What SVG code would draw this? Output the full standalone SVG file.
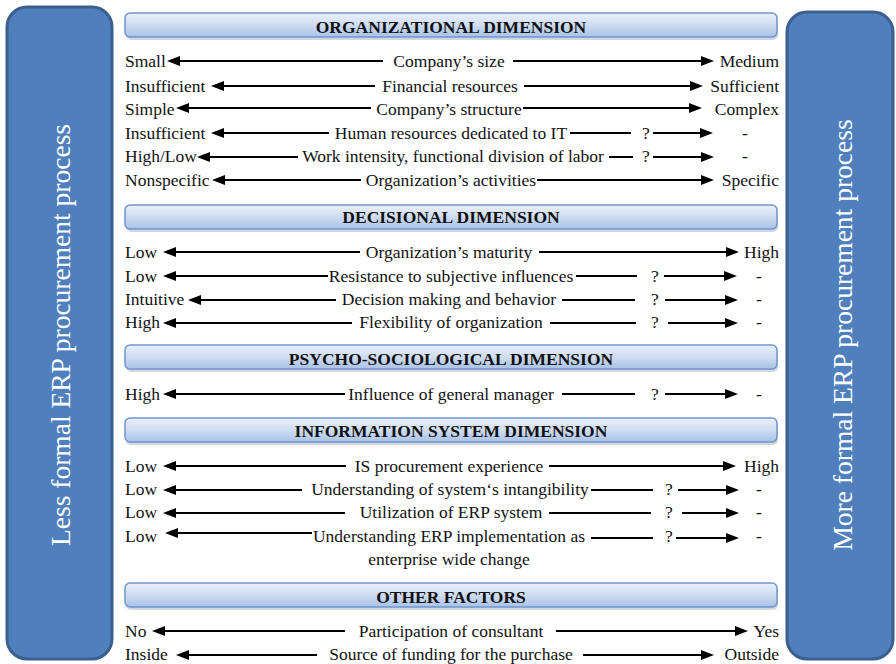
<svg xmlns="http://www.w3.org/2000/svg" width="896" height="664" viewBox="0 0 896 664">
  <defs>
    <linearGradient id="barFill" x1="0" y1="0" x2="0" y2="1">
      <stop offset="0" stop-color="#eaf0fa"/>
      <stop offset="0.5" stop-color="#cfdcf1"/>
      <stop offset="1" stop-color="#a8c2e8"/>
    </linearGradient>
    <marker id="head" markerUnits="userSpaceOnUse" markerWidth="14" markerHeight="11" refX="2" refY="5" orient="auto">
      <path d="M0,0 L13,5 L0,10 z" fill="#000"/>
    </marker>
    <style>
      .panel { fill: #4f7fbd; stroke: #3b5f8f; stroke-width: 3; }
      .vtext { font-family: "Liberation Serif", "Times New Roman", serif; font-size: 27.5px; fill: #ffffff; text-anchor: middle; }
      .bar { fill: url(#barFill); stroke: #6f96cd; stroke-width: 1.5; }
      .barShadow { fill: #7f8fa6; opacity: 0.35; }
      .head { font-family: "Liberation Serif", "Times New Roman", serif; font-size: 17.5px; font-weight: bold; fill: #111; text-anchor: middle; }
      .row text { font-family: "Liberation Serif", "Times New Roman", serif; font-size: 17.5px; fill: #111; }
      .c { text-anchor: middle; }
      .e { text-anchor: end; }
      .ln { stroke: #000; stroke-width: 2; fill: none; }
      .ar { stroke: #000; stroke-width: 2; fill: none; marker-end: url(#head); }
    </style>
  </defs>
  <rect width="896" height="664" fill="#ffffff"/>

  <!-- side panels -->
  <g id="less-formal">
    <rect class="panel" x="7" y="7" width="105" height="652" rx="20"/>
    <text class="vtext" transform="translate(70,335) rotate(-90)">Less formal ERP procurement process</text>
  </g>
  <g id="more-formal">
    <rect class="panel" x="787" y="12" width="106" height="647" rx="20"/>
    <text class="vtext" transform="translate(852,335) rotate(-90)">More formal ERP procurement process</text>
  </g>

  <!-- dimension headers -->
  <g id="hdr-organizational">
    <rect class="barShadow" x="126" y="15" width="652" height="25" rx="5"/>
    <rect class="bar" x="125" y="13" width="652" height="24" rx="5"/>
    <text class="head" x="451" y="33">ORGANIZATIONAL DIMENSION</text>
  </g>
  <g id="hdr-decisional">
    <rect class="barShadow" x="126" y="207" width="652" height="25" rx="5"/>
    <rect class="bar" x="125" y="205" width="652" height="24" rx="5"/>
    <text class="head" x="451" y="223">DECISIONAL DIMENSION</text>
  </g>
  <g id="hdr-psycho">
    <rect class="barShadow" x="126" y="347" width="652" height="25" rx="5"/>
    <rect class="bar" x="125" y="345" width="652" height="24" rx="5"/>
    <text class="head" x="451" y="365">PSYCHO-SOCIOLOGICAL DIMENSION</text>
  </g>
  <g id="hdr-information">
    <rect class="barShadow" x="126" y="420" width="652" height="25" rx="5"/>
    <rect class="bar" x="125" y="418" width="652" height="24" rx="5"/>
    <text class="head" x="451" y="437">INFORMATION SYSTEM DIMENSION</text>
  </g>
  <g id="hdr-other">
    <rect class="barShadow" x="126" y="585" width="652" height="25" rx="5"/>
    <rect class="bar" x="125" y="583" width="652" height="24" rx="5"/>
    <text class="head" x="451" y="603">OTHER FACTORS</text>
  </g>

  <!-- factor rows: left pole, factor name, right pole -->
  <g id="org-size" class="row" font-family="Liberation Serif, Times New Roman, serif" font-size="17.5">
    <text x="125" y="67">Small</text><text class="c" x="449" y="67">Company’s size</text><text class="e" x="779" y="67">Medium</text>
  </g>
  <g id="org-financial" class="row" font-family="Liberation Serif, Times New Roman, serif" font-size="17.5">
    <text x="125" y="92">Insufficient</text><text class="c" x="450" y="92">Financial resources</text><text class="e" x="779" y="92">Sufficient</text>
  </g>
  <g id="org-structure" class="row" font-family="Liberation Serif, Times New Roman, serif" font-size="17.5">
    <text x="125" y="115">Simple</text><text class="c" x="449" y="115">Company’s structure</text><text class="e" x="779" y="115">Complex</text>
  </g>
  <g id="org-hr" class="row" font-family="Liberation Serif, Times New Roman, serif" font-size="17.5">
    <text x="125" y="139">Insufficient</text><text class="c" x="451" y="139">Human resources dedicated to IT</text><text class="c" x="646" y="139">?</text><text class="c" x="745" y="139">-</text>
  </g>
  <g id="org-work" class="row" font-family="Liberation Serif, Times New Roman, serif" font-size="17.5">
    <text x="125" y="162">High/Low</text><text class="c" x="453" y="162">Work intensity, functional division of labor</text><text class="c" x="646" y="162">?</text><text class="c" x="745" y="162">-</text>
  </g>
  <g id="org-activities" class="row" font-family="Liberation Serif, Times New Roman, serif" font-size="17.5">
    <text x="125" y="186">Nonspecific</text><text class="c" x="451" y="186">Organization’s activities</text><text class="e" x="779" y="186">Specific</text>
  </g>

  <g id="dec-maturity" class="row" font-family="Liberation Serif, Times New Roman, serif" font-size="17.5">
    <text x="125" y="258">Low</text><text class="c" x="449" y="258">Organization’s maturity</text><text class="e" x="779" y="258">High</text>
  </g>
  <g id="dec-resistance" class="row" font-family="Liberation Serif, Times New Roman, serif" font-size="17.5">
    <text x="125" y="282">Low</text><text class="c" x="451" y="282">Resistance to subjective influences</text><text class="c" x="655" y="282">?</text><text class="c" x="759" y="282">-</text>
  </g>
  <g id="dec-decision" class="row" font-family="Liberation Serif, Times New Roman, serif" font-size="17.5">
    <text x="125" y="305">Intuitive</text><text class="c" x="449" y="305">Decision making and behavior</text><text class="c" x="655" y="305">?</text><text class="c" x="759" y="305">-</text>
  </g>
  <g id="dec-flexibility" class="row" font-family="Liberation Serif, Times New Roman, serif" font-size="17.5">
    <text x="125" y="328">High</text><text class="c" x="451" y="328">Flexibility of organization</text><text class="c" x="655" y="328">?</text><text class="c" x="759" y="328">-</text>
  </g>

  <g id="psy-manager" class="row" font-family="Liberation Serif, Times New Roman, serif" font-size="17.5">
    <text x="125" y="400">High</text><text class="c" x="451" y="400">Influence of general manager</text><text class="c" x="655" y="400">?</text><text class="c" x="759" y="400">-</text>
  </g>

  <g id="is-experience" class="row" font-family="Liberation Serif, Times New Roman, serif" font-size="17.5">
    <text x="125" y="472">Low</text><text class="c" x="449" y="472">IS procurement experience</text><text class="e" x="779" y="472">High</text>
  </g>
  <g id="is-intangibility" class="row" font-family="Liberation Serif, Times New Roman, serif" font-size="17.5">
    <text x="125" y="495">Low</text><text class="c" x="450" y="495">Understanding of system‘s intangibility</text><text class="c" x="669" y="495">?</text><text class="c" x="759" y="495">-</text>
  </g>
  <g id="is-utilization" class="row" font-family="Liberation Serif, Times New Roman, serif" font-size="17.5">
    <text x="125" y="518">Low</text><text class="c" x="451" y="518">Utilization of ERP system</text><text class="c" x="669" y="518">?</text><text class="c" x="759" y="518">-</text>
  </g>
  <g id="is-change" class="row" font-family="Liberation Serif, Times New Roman, serif" font-size="17.5">
    <text x="125" y="542">Low</text><text class="c" x="449" y="542">Understanding ERP implementation as</text><text class="c" x="449" y="565">enterprise wide change</text><text class="c" x="669" y="542">?</text><text class="c" x="759" y="542">-</text>
  </g>

  <g id="oth-consultant" class="row" font-family="Liberation Serif, Times New Roman, serif" font-size="17.5">
    <text x="125" y="637">No</text><text class="c" x="451" y="637">Participation of consultant</text><text class="e" x="779" y="637">Yes</text>
  </g>
  <g id="oth-funding" class="row" font-family="Liberation Serif, Times New Roman, serif" font-size="17.5">
    <text x="125" y="660">Inside</text><text class="c" x="451" y="660">Source of funding for the purchase</text><text class="e" x="779" y="660">Outside</text>
  </g>

  <!-- connectors: arrows from each factor name toward its two poles -->
  <g id="connectors">
    <!-- organizational -->
    <path class="ar" d="M383,61 H178"/><path class="ar" d="M513,61 H703"/>
    <path class="ar" d="M375,86 H222"/><path class="ar" d="M524,86 H692"/>
    <path class="ar" d="M371,108 H187"/><path class="ar" d="M523,108 H691"/>
    <path class="ar" d="M329,133 H222"/><path class="ln" d="M570,133 H631"/><path class="ar" d="M653,133 H702"/>
    <path class="ar" d="M298,157 H208"/><path class="ln" d="M609,157 H633"/><path class="ar" d="M653,157 H703"/>
    <path class="ar" d="M361,180 H223"/><path class="ar" d="M537,180 H703"/>
    <!-- decisional -->
    <path class="ar" d="M360,252 H174"/><path class="ar" d="M539,252 H728"/>
    <path class="ar" d="M328,276 H174"/><path class="ln" d="M576,276 H637"/><path class="ar" d="M664,276 H726"/>
    <path class="ar" d="M336,300 H199"/><path class="ln" d="M562,300 H635"/><path class="ar" d="M665,300 H727"/>
    <path class="ar" d="M352,323 H174"/><path class="ln" d="M550,323 H636"/><path class="ar" d="M668,323 H727"/>
    <!-- psycho-sociological -->
    <path class="ar" d="M345,394 H174"/><path class="ln" d="M562,394 H635"/><path class="ar" d="M665,394 H727"/>
    <!-- information system -->
    <path class="ar" d="M346,466 H174"/><path class="ar" d="M549,466 H725"/>
    <path class="ar" d="M302,490 H174"/><path class="ln" d="M591,490 H653"/><path class="ar" d="M678,490 H728"/>
    <path class="ar" d="M345,513 H174"/><path class="ln" d="M549,513 H651"/><path class="ar" d="M682,513 H728"/>
    <path class="ar" d="M312,533 H176"/><path class="ln" d="M591,538 H653"/><path class="ar" d="M676,538 H728"/>
    <!-- other factors -->
    <path class="ar" d="M345,631 H163"/><path class="ar" d="M556,631 H737"/>
    <path class="ar" d="M317,655 H187"/><path class="ar" d="M583,655 H703"/>
  </g>
</svg>
